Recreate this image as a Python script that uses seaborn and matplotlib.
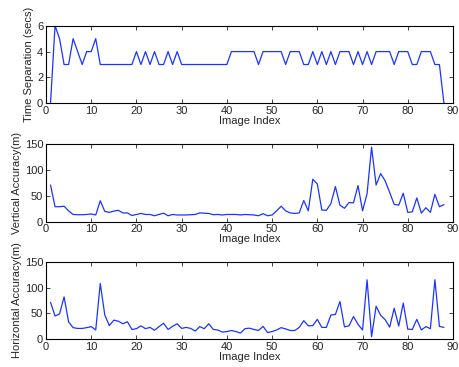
import matplotlib
matplotlib.use("Agg")
import matplotlib.pyplot as plt
import numpy as np
import pandas as pd
import seaborn as sns

# Data (image index 1..88)
image_index = list(range(1, 89))

time_sep = [0, 6, 5, 3, 3, 5, 4, 3, 4, 4,
            5, 3, 3, 3, 3, 3, 3, 3, 3, 4,
            3, 4, 3, 4, 3, 3, 4, 3, 4, 3,
            3, 3, 3, 3, 3, 3, 3, 3, 3, 3,
            4, 4, 4, 4, 4, 4, 3, 4, 4, 4,
            4, 4, 3, 4, 4, 4, 3, 3, 4, 3,
            4, 3, 4, 3, 4, 4, 4, 3, 4, 3,
            4, 3, 4, 4, 4, 4, 3, 4, 4, 4,
            3, 3, 4, 4, 4, 3, 3, 0]

vert_acc = [71, 29, 29, 30, 21, 14, 13.5, 13.5, 14, 15,
            13, 40.5, 20, 18, 20.5, 22, 17, 17, 12, 14,
            16, 14, 14, 11.5, 14, 16.5, 11.5, 14, 13, 13,
            13, 13.5, 14, 17, 16.5, 16, 13.5, 14, 13, 14,
            14, 14, 13, 14, 13.5, 13, 11.5, 15.5, 11.5, 13,
            21, 30, 21, 17, 16, 17, 41, 21, 82, 73,
            22.5, 22, 35, 68, 32, 26, 37, 36.5, 70, 21,
            54, 144, 71, 93, 79, 56.5, 33.5, 32, 55, 18,
            19, 46, 16.5, 27, 18, 53, 29, 33]

horiz_acc = [71.5, 45, 49, 82, 33.5, 22.5, 21, 21, 22.5, 24.5,
             18, 108, 47, 26.5, 37, 35, 30, 34, 19, 20.5,
             26, 20.5, 23, 17.5, 24.5, 31, 19, 25, 30, 21,
             23, 21, 16, 24.5, 20.5, 30, 19, 18, 14, 15,
             17, 15, 12, 20.5, 21.5, 19, 17, 25, 13, 15,
             18, 22.5, 20, 17, 17, 23, 36, 26, 26.5, 38.5,
             23, 23, 47, 48, 73, 24, 26, 44, 29, 18,
             115, 5, 64, 46.5, 38, 23.5, 60, 25.5, 70, 19.5,
             19, 38.5, 18, 24.5, 20.5, 115, 25, 23]

panels = [
    (time_sep, "Time Separation (secs)", [0, 2, 4, 6], (0, 6)),
    (vert_acc, "Vertical Accuracy(m)", [0, 50, 100, 150], (0, 150)),
    (horiz_acc, "Horizontal Accuracy(m)", [0, 50, 100, 150], (0, 150)),
]

sns.set_style("ticks")
plt.rcParams["font.family"] = ["Liberation Sans", "DejaVu Sans"]
plt.rcParams["xtick.direction"] = "in"
plt.rcParams["ytick.direction"] = "in"
plt.rcParams["xtick.top"] = True
plt.rcParams["ytick.right"] = True

fig = plt.figure(figsize=(4.59, 3.67), dpi=100)
fig.patch.set_facecolor("white")

bottoms = [0.7185, 0.3959, 0.0755]

for (vals, ylabel, yticks, ylim), b in zip(panels, bottoms):
    ax = fig.add_axes([0.1002, b, 0.8867, 0.2114])
    df = pd.DataFrame({"idx": image_index, "val": vals})
    sns.lineplot(data=df, x="idx", y="val", ax=ax, color="#1a35ff",
                 linewidth=0.9)
    ax.set_xlim(0, 90)
    ax.set_ylim(*ylim)
    ax.set_xticks(range(0, 91, 10))
    ax.set_yticks(yticks)
    ax.tick_params(labelsize=8, length=3, width=0.6, pad=2)
    ax.set_xlabel("Image Index", fontsize=8, labelpad=0)
    ax.set_ylabel(ylabel, fontsize=8, labelpad=2)
    for s in ax.spines.values():
        s.set_linewidth(0.8)
        s.set_color("black")

fig.savefig("out.png", dpi=100, facecolor="white")
